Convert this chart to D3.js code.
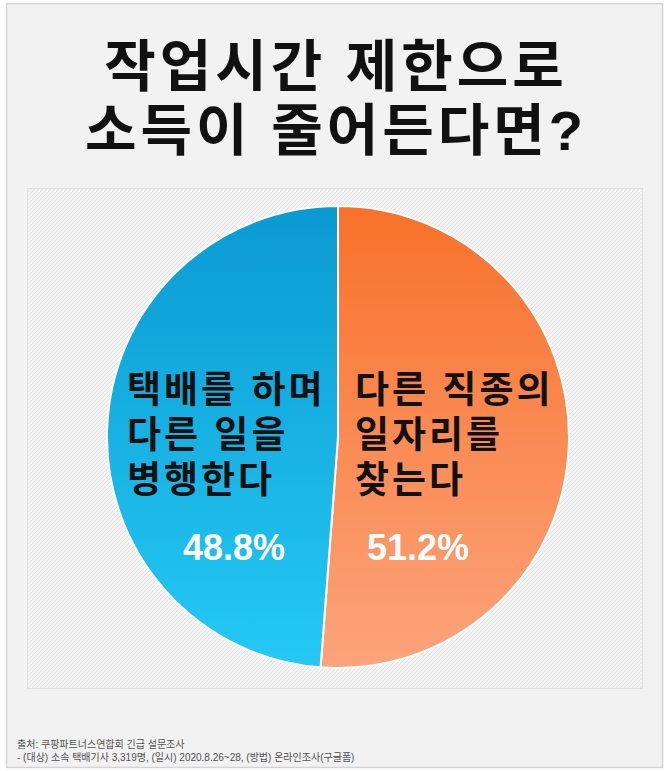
<!DOCTYPE html>
<html lang="ko">
<head>
<meta charset="utf-8">
<script src="https://cdn.jsdelivr.net/npm/d3@7"></script>
<style>
  html, body { margin: 0; padding: 0; background: #ffffff; }
  svg { display: block; }
</style>
</head>
<body>
<div id="chart"></div>
<script>
// data
var titleLines = ["작업시간 제한으로", "소득이 줄어든다면?"];
var categories = ["다른 직종의 일자리를 찾는다", "택배를 하며 다른 일을 병행한다"];
var labelLines = [["다른 직종의", "일자리를", "찾는다"], ["택배를 하며", "다른 일을", "병행한다"]];
var values = [51.2, 48.8];
var sourceLines = [
    "출처: 쿠팡파트너스연합회 긴급 설문조사",
    "- (대상) 소속 택배기사 3,319명, (일시) 2020.8.26~28, (방법) 온라인조사(구글폼)"
];

var width = 668, height = 771;
var cx = 338, cy = 437, radius = 231;
// latin face first (tight line box), hangul falls through to Noto CJK
var fontFamily = "'Liberation Sans', 'Noto Sans CJK KR', sans-serif";

var svg = d3.select("#chart")
    .append("svg")
    .attr("width", width)
    .attr("height", height);

var defs = svg.append("defs");

// hatched panel background
var pat = defs.append("pattern")
    .attr("id", "hatch")
    .attr("width", 4)
    .attr("height", 4)
    .attr("patternUnits", "userSpaceOnUse");
pat.append("rect").attr("width", 4).attr("height", 4).attr("fill", "#f4f4f4");
pat.append("path")
    .attr("d", "M0,4 L4,0 M-1,1 L1,-1 M3,5 L5,3")
    .attr("stroke", "#e2e2e2")
    .attr("stroke-width", 1);

// slice gradients (orange, blue), top to bottom of the pie
var gradColors = [["#f8712a", "#fca47c"], ["#0a9ad2", "#25c9f4"]];
gradColors.forEach(function(c, i) {
    var g = defs.append("linearGradient")
        .attr("id", "grad" + i)
        .attr("gradientUnits", "userSpaceOnUse")
        .attr("x1", 0).attr("y1", -radius).attr("x2", 0).attr("y2", radius);
    g.append("stop").attr("offset", "0%").attr("stop-color", c[0]);
    g.append("stop").attr("offset", "100%").attr("stop-color", c[1]);
});

// outer frame
svg.append("rect")
    .attr("x", 6.5).attr("y", 3.5)
    .attr("width", 656).attr("height", 764)
    .attr("fill", "#f2f2f2")
    .attr("stroke", "#d4d4d4")
    .attr("stroke-width", 1.5);

// panel
svg.append("rect")
    .attr("x", 27.5).attr("y", 188.5)
    .attr("width", 615).attr("height", 500)
    .attr("fill", "url(#hatch)")
    .attr("stroke", "#e0e0e0")
    .attr("stroke-width", 1);

// title (one text, two lines)
svg.append("text")
    .attr("y", 86)
    .attr("text-anchor", "middle")
    .attr("font-family", fontFamily)
    .attr("font-weight", "bold")
    .attr("font-size", "56px")
    .attr("letter-spacing", "4px")
    .attr("fill", "#111")
    .selectAll("tspan")
    .data(titleLines)
    .enter().append("tspan")
    .attr("x", 336)
    .attr("dy", function(d, i) { return i === 0 ? 0 : 64; })
    .text(function(d) { return d; });

// pie
var pie = d3.pie().sort(null).value(function(d) { return d; });
var arc = d3.arc().innerRadius(0).outerRadius(radius);
var arcs = pie(values);

var pieG = svg.append("g")
    .attr("transform", "translate(" + cx + "," + cy + ")");

pieG.selectAll("path.slice")
    .data(arcs)
    .enter().append("path")
    .attr("class", "slice")
    .attr("d", arc)
    .attr("fill", function(d, i) { return "url(#grad" + i + ")"; })
    .attr("stroke", "#ffffff")
    .attr("stroke-width", 2);

// category labels
var labelX = [355, 127];
labelLines.forEach(function(lines, i) {
    pieG.append("text")
        .attr("y", 403 - cy)
        .attr("font-family", fontFamily)
        .attr("font-weight", "bold")
        .attr("font-size", "37px")
        .attr("letter-spacing", "3px")
        .attr("fill", "#111")
        .selectAll("tspan")
        .data(lines)
        .enter().append("tspan")
        .attr("x", labelX[i] - cx)
        .attr("dy", function(d, j) { return j === 0 ? 0 : 45; })
        .text(function(d) { return d; });
});

// percentages
var pctX = [418, 234];
pieG.selectAll("text.pct")
    .data(values)
    .enter().append("text")
    .attr("class", "pct")
    .attr("x", function(d, i) { return pctX[i] - cx; })
    .attr("y", 560 - cy)
    .attr("text-anchor", "middle")
    .attr("font-family", fontFamily)
    .attr("font-weight", "bold")
    .attr("font-size", "36px")
    .attr("fill", "#ffffff")
    .text(function(d) { return d.toFixed(1) + "%"; });

// source note
svg.append("text")
    .attr("y", 748)
    .attr("font-family", fontFamily)
    .attr("font-size", "10px")
    .attr("fill", "#505050")
    .selectAll("tspan")
    .data(sourceLines)
    .enter().append("tspan")
    .attr("x", 17)
    .attr("dy", function(d, i) { return i === 0 ? 0 : 13; })
    .text(function(d) { return d; });
</script>
</body>
</html>
